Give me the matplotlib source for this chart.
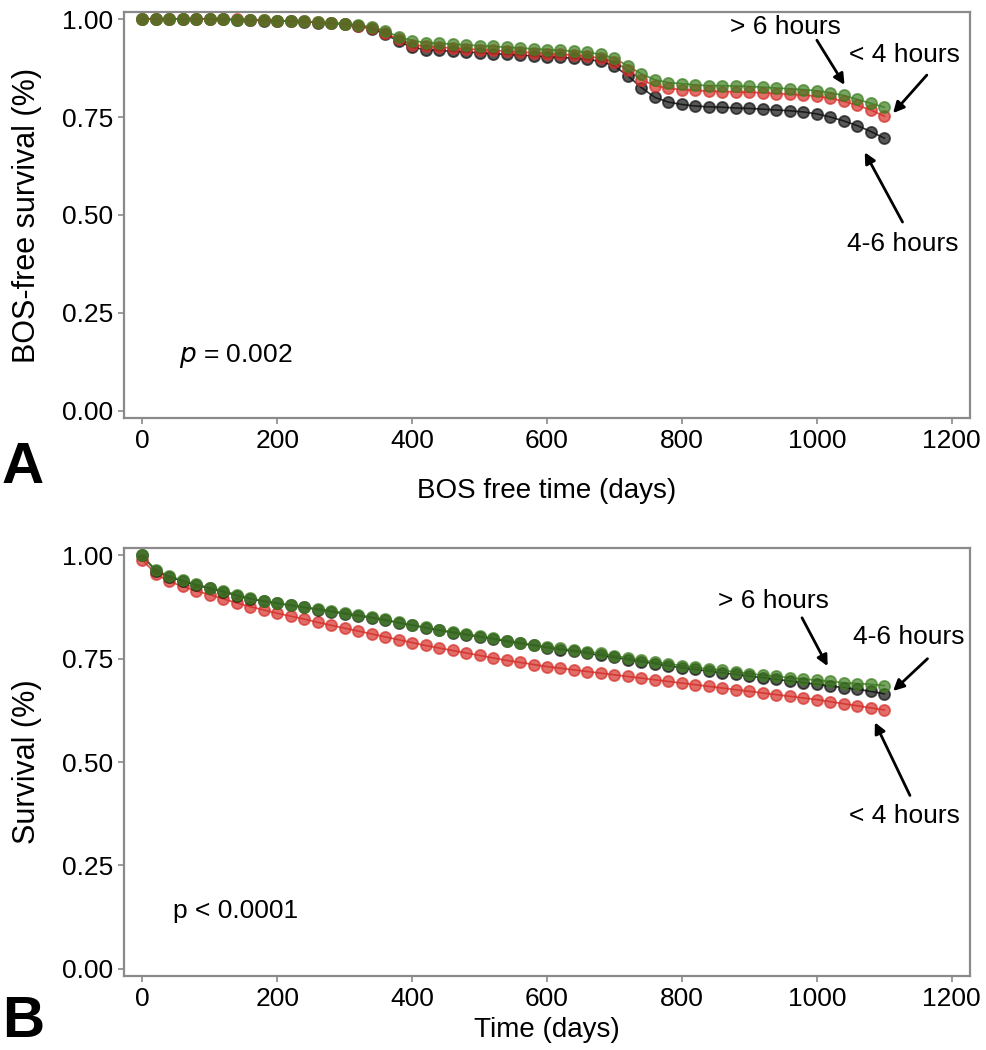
import matplotlib
matplotlib.use("Agg")
import matplotlib.pyplot as plt

plt.rcParams['font.family'] = ['Liberation Sans', 'DejaVu Sans']

# shared time grid (days)
days = [0, 20, 40, 60, 80, 100, 120, 140, 160, 180, 200, 220, 240, 260, 280,
        300, 320, 340, 360, 380, 400, 420, 440, 460, 480, 500, 520, 540, 560,
        580, 600, 620, 640, 660, 680, 700, 720, 740, 760, 780, 800, 820, 840,
        860, 880, 900, 920, 940, 960, 980, 1000, 1020, 1040, 1060, 1080, 1100]

# panel A: BOS-free survival
bos_gt6 = [1.000, 1.000, 1.000, 1.000, 1.000, 1.000, 1.000, 0.998, 0.998, 0.997,
           0.996, 0.995, 0.994, 0.992, 0.990, 0.988, 0.985, 0.980, 0.970, 0.955,
           0.945, 0.940, 0.938, 0.936, 0.934, 0.932, 0.930, 0.928, 0.926, 0.924,
           0.922, 0.920, 0.918, 0.915, 0.910, 0.900, 0.880, 0.860, 0.845, 0.838,
           0.835, 0.832, 0.830, 0.830, 0.829, 0.828, 0.826, 0.824, 0.822, 0.820,
           0.817, 0.812, 0.805, 0.795, 0.785, 0.775]
bos_lt4 = [1.000, 1.000, 1.000, 1.000, 1.000, 1.000, 1.000, 0.999, 0.998, 0.997,
           0.996, 0.995, 0.994, 0.992, 0.990, 0.988, 0.983, 0.977, 0.965, 0.948,
           0.935, 0.930, 0.928, 0.926, 0.924, 0.922, 0.920, 0.918, 0.916, 0.914,
           0.912, 0.910, 0.908, 0.905, 0.900, 0.890, 0.870, 0.845, 0.830, 0.823,
           0.820, 0.818, 0.816, 0.815, 0.814, 0.813, 0.812, 0.810, 0.808, 0.806,
           0.803, 0.798, 0.790, 0.780, 0.768, 0.752]
bos_4to6 = [1.000, 1.000, 1.000, 1.000, 1.000, 1.000, 0.999, 0.998, 0.997, 0.996,
            0.995, 0.994, 0.993, 0.991, 0.989, 0.987, 0.982, 0.975, 0.962, 0.943,
            0.928, 0.922, 0.920, 0.918, 0.916, 0.914, 0.912, 0.910, 0.908, 0.906,
            0.904, 0.902, 0.900, 0.897, 0.892, 0.880, 0.855, 0.825, 0.800, 0.788,
            0.782, 0.778, 0.776, 0.775, 0.773, 0.772, 0.770, 0.768, 0.766, 0.763,
            0.758, 0.750, 0.740, 0.728, 0.713, 0.696]

# panel B: overall survival
os_gt6 = [1.000, 0.965, 0.950, 0.940, 0.930, 0.922, 0.915, 0.905, 0.897, 0.890,
          0.885, 0.880, 0.875, 0.871, 0.866, 0.861, 0.856, 0.851, 0.845, 0.838,
          0.832, 0.826, 0.820, 0.815, 0.810, 0.805, 0.800, 0.794, 0.789, 0.784,
          0.779, 0.775, 0.771, 0.767, 0.763, 0.757, 0.752, 0.747, 0.742, 0.738,
          0.733, 0.729, 0.725, 0.722, 0.718, 0.714, 0.710, 0.707, 0.704, 0.701,
          0.698, 0.695, 0.692, 0.690, 0.688, 0.685]
os_4to6 = [1.000, 0.962, 0.948, 0.938, 0.928, 0.920, 0.912, 0.903, 0.895, 0.889,
           0.884, 0.879, 0.874, 0.869, 0.864, 0.859, 0.854, 0.849, 0.843, 0.837,
           0.831, 0.825, 0.819, 0.813, 0.808, 0.803, 0.798, 0.792, 0.787, 0.782,
           0.777, 0.772, 0.768, 0.763, 0.758, 0.753, 0.748, 0.743, 0.738, 0.733,
           0.728, 0.724, 0.720, 0.716, 0.712, 0.708, 0.704, 0.700, 0.696, 0.692,
           0.688, 0.684, 0.680, 0.676, 0.671, 0.665]
os_lt4 = [0.990, 0.955, 0.937, 0.925, 0.914, 0.905, 0.895, 0.885, 0.876, 0.868,
          0.860, 0.853, 0.846, 0.838, 0.831, 0.824, 0.817, 0.810, 0.803, 0.796,
          0.789, 0.782, 0.776, 0.770, 0.764, 0.758, 0.752, 0.746, 0.741, 0.736,
          0.731, 0.727, 0.723, 0.719, 0.715, 0.711, 0.707, 0.703, 0.699, 0.695,
          0.691, 0.687, 0.683, 0.679, 0.675, 0.671, 0.667, 0.663, 0.659, 0.655,
          0.651, 0.646, 0.641, 0.636, 0.631, 0.626]

x_ticks = [0, 200, 400, 600, 800, 1000, 1200]
y_ticks = [0.00, 0.25, 0.50, 0.75, 1.00]

GREEN = '#3f7f22'
RED = '#d5302a'
BLACK = '#111111'
FRAME = '#8a8a8a'


def draw_curve(ax, y, color):
    ax.plot(days, y, color=color, lw=1.2, alpha=0.85, zorder=2)
    ax.plot(days, y, ls='none', marker='o', ms=8, mew=1.3,
            mfc=color, mec=color, alpha=0.7, zorder=3)


def style_axes(ax):
    ax.set_xlim(-27, 1227)
    ax.set_ylim(-0.018, 1.018)
    ax.set_xticks(x_ticks)
    ax.set_yticks(y_ticks)
    ax.set_yticklabels([f'{v:.2f}' for v in y_ticks])
    for s in ax.spines.values():
        s.set_color(FRAME)
        s.set_linewidth(1.6)
    ax.tick_params(direction='out', length=4, width=1.2, color=FRAME,
                   labelsize=19, pad=4)


def arrow(ax, text, txy, tail, head):
    ax.text(txy[0], txy[1], text, fontsize=19, ha='center', va='center')
    ax.annotate('', xy=head, xytext=tail,
                arrowprops=dict(arrowstyle='-|>', color='black', lw=2,
                                mutation_scale=16, shrinkA=0, shrinkB=0))


fig = plt.figure(figsize=(9.86, 10.5), dpi=100)

# --- panel A ---
ax1 = fig.add_axes([124 / 986, 1 - 418 / 1050, 846 / 986, 406 / 1050])
draw_curve(ax1, bos_4to6, BLACK)
draw_curve(ax1, bos_lt4, RED)
draw_curve(ax1, bos_gt6, GREEN)
style_axes(ax1)
ax1.set_xlabel('BOS free time (days)', fontsize=20, labelpad=18)
ax1.set_ylabel('BOS-free survival (%)', fontsize=22, labelpad=14)
ax1.text(55, 0.14, r'$\it{p}$ = 0.002', fontsize=19, ha='left', va='center')
arrow(ax1, '> 6 hours', (954, 0.98), (1000, 0.946), (1041, 0.832))
arrow(ax1, '< 4 hours', (1130, 0.908), (1163, 0.857), (1113, 0.760))
arrow(ax1, '4-6 hours', (1127, 0.426), (1127, 0.482), (1071, 0.660))

# --- panel B ---
ax2 = fig.add_axes([124 / 986, 1 - 976 / 1050, 846 / 986, 428 / 1050])
draw_curve(ax2, os_lt4, RED)
draw_curve(ax2, os_4to6, BLACK)
draw_curve(ax2, os_gt6, GREEN)
style_axes(ax2)
ax2.set_xlabel('Time (days)', fontsize=20, labelpad=4)
ax2.set_ylabel('Survival (%)', fontsize=22, labelpad=14)
ax2.text(46, 0.14, 'p < 0.0001', fontsize=19, ha='left', va='center')
arrow(ax2, '> 6 hours', (935, 0.89), (978, 0.849), (1016, 0.732))
arrow(ax2, '4-6 hours', (1136, 0.802), (1164, 0.750), (1113, 0.672))
arrow(ax2, '< 4 hours', (1130, 0.37), (1138, 0.419), (1086, 0.596))

fig.text(2 / 986, 1 - 468 / 1050, 'A', fontsize=42, fontweight='bold',
         ha='left', va='center')
fig.text(2 / 986, 1 - 1022 / 1050, 'B', fontsize=42, fontweight='bold',
         ha='left', va='center')

fig.savefig('out.png', dpi=100)
